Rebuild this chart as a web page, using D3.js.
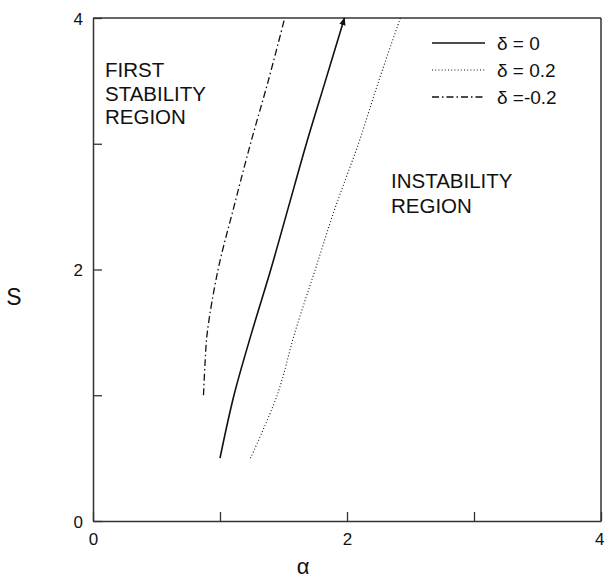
<!DOCTYPE html>
<html>
<head>
<meta charset="utf-8">
<script src="https://cdn.jsdelivr.net/npm/d3@7"></script>
<style>
  html, body { margin: 0; padding: 0; background: #fff; }
  svg { display: block; font-family: "Liberation Sans", Arial, sans-serif; }
</style>
</head>
<body>
<svg id="chart" width="604" height="580"></svg>
<script>
// Marginal stability boundaries S(alpha) for three values of delta
const sLevels = [0.5, 1.0, 1.5, 2.0, 2.5, 3.0, 3.5, 4.0];
const alphaDelta0 = [1.00, 1.11, 1.25, 1.40, 1.54, 1.68, 1.83, 1.98];
const alphaDeltaPos = [1.24, 1.45, 1.59, 1.75, 1.91, 2.09, 2.25, 2.42];
const sLevelsNeg = [1.0, 1.25, 1.5, 2.0, 2.5, 3.0, 3.5, 4.0];
const alphaDeltaNeg = [0.87, 0.882, 0.90, 0.985, 1.11, 1.24, 1.38, 1.51];

const tickValues = [0, 1, 2, 3, 4];
const labelledTicks = [0, 2, 4];
const legendLabels = ["δ = 0", "δ = 0.2", "δ =-0.2"];

const svg = d3.select("#chart");
const x = d3.scaleLinear().domain([0, 4]).range([93, 601]);
const y = d3.scaleLinear().domain([0, 4]).range([521, 18]);

const axisColor = "#333";
const fmt = d => labelledTicks.includes(d) ? String(d) : "";

// bottom axis, ticks pointing inward
const gx = svg.append("g").attr("transform", `translate(0,${y(0)})`)
  .call(d3.axisBottom(x).tickValues(tickValues).tickFormat(fmt)
    .tickSize(-9).tickSizeOuter(0).tickPadding(12));
// left axis, ticks pointing inward
const gy = svg.append("g").attr("transform", `translate(${x(0)},0)`)
  .call(d3.axisLeft(y).tickValues(tickValues).tickFormat(fmt)
    .tickSize(-9).tickSizeOuter(0).tickPadding(10));

[gx, gy].forEach(g => {
  g.select(".domain").attr("stroke", axisColor).attr("stroke-width", 1.5);
  g.selectAll(".tick line").attr("stroke", axisColor).attr("stroke-width", 1.3);
  g.selectAll(".tick text").attr("fill", "#111").attr("font-size", 17)
    .attr("font-family", "Liberation Sans, Arial, sans-serif");
});
gy.selectAll(".tick text").attr("dy", "0.36em");
// the last x label sits flush against the right edge
gx.selectAll(".tick text").filter(d => d === 4).attr("text-anchor", "end").attr("x", 3);

// frame: top and right edges
svg.append("line").attr("x1", x(0)).attr("x2", x(4)).attr("y1", y(4)).attr("y2", y(4))
  .attr("stroke", axisColor).attr("stroke-width", 1.5);
svg.append("line").attr("x1", x(4)).attr("x2", x(4)).attr("y1", y(4)).attr("y2", y(0))
  .attr("stroke", axisColor).attr("stroke-width", 1.5);

// axis titles
svg.append("text").attr("x", 303).attr("y", 574).attr("text-anchor", "middle")
  .attr("font-size", 22).attr("fill", "#111").text("α");
svg.append("text").attr("x", 14).attr("y", 305).attr("text-anchor", "middle")
  .attr("font-size", 23).attr("fill", "#111").text("S");

// curves
const line = d3.line().x(d => x(d[0])).y(d => y(d[1])).curve(d3.curveCatmullRom);

svg.append("defs").append("marker")
  .attr("id", "tip").attr("viewBox", "0 0 10 10").attr("refX", 9).attr("refY", 5)
  .attr("markerWidth", 5).attr("markerHeight", 7).attr("orient", "auto")
  .append("path").attr("d", "M0,1 L10,5 L0,9 Z").attr("fill", "#111");

const series = [
  { a: alphaDelta0, s: sLevels, dash: null, width: 1.6, tip: true },
  { a: alphaDeltaPos, s: sLevels, dash: "1,2.2", width: 1.1, tip: false },
  { a: alphaDeltaNeg, s: sLevelsNeg, dash: "7,3,1.5,3", width: 1.3, tip: false }
];

series.forEach(sr => {
  const pts = sr.a.map((a, i) => [a, sr.s[i]]);
  const p = svg.append("path").attr("d", line(pts))
    .attr("fill", "none").attr("stroke", "#111").attr("stroke-width", sr.width);
  if (sr.dash) p.attr("stroke-dasharray", sr.dash);
  if (sr.tip) p.attr("marker-end", "url(#tip)");
});

// legend
const legend = svg.append("g");
series.forEach((sr, i) => {
  const yy = 43 + i * 27;
  const l = legend.append("line").attr("x1", 432).attr("x2", 485).attr("y1", yy).attr("y2", yy)
    .attr("stroke", "#111").attr("stroke-width", sr.width);
  if (sr.dash) l.attr("stroke-dasharray", sr.dash);
  legend.append("text").attr("x", 497).attr("y", yy + 7).attr("font-size", 19)
    .attr("fill", "#111").text(legendLabels[i]);
});

// region annotations
const regionText = (lines, x0, y0, dy) => {
  lines.forEach((t, i) => svg.append("text").attr("x", x0).attr("y", y0 + i * dy)
    .attr("font-size", 20.5).attr("fill", "#111").text(t));
};
regionText(["FIRST", "STABILITY", "REGION"], 105, 77, 23.5);
regionText(["INSTABILITY", "REGION"], 391, 188, 25);
</script>
</body>
</html>
